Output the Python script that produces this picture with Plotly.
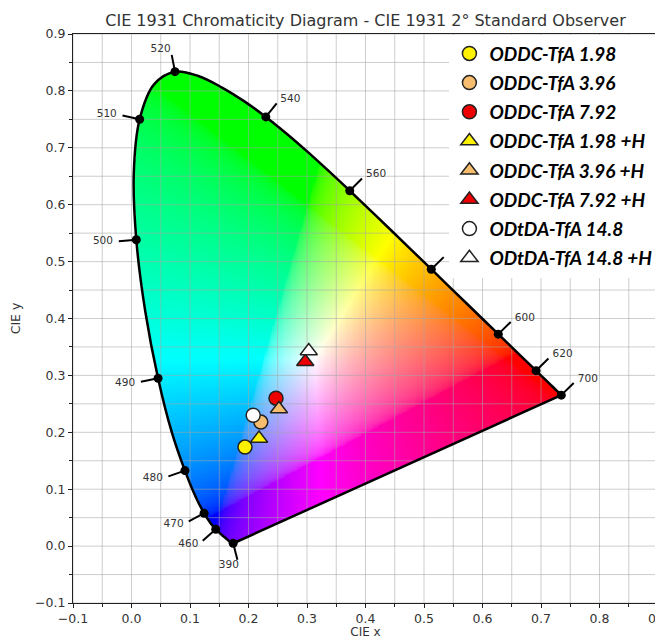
import numpy as np
import plotly.graph_objects as go

# ---------------- data ----------------
# CIE 1931 2 deg spectral locus chromaticities (380-700 nm, 5 nm)
LOCUS_WL = list(range(380, 705, 5))
LOCUS_X = [0.1741, 0.1740, 0.1738, 0.1736, 0.1733, 0.1730, 0.1726, 0.1721, 0.1714, 0.1703,
           0.1689, 0.1669, 0.1644, 0.1611, 0.1566, 0.1510, 0.1440, 0.1355, 0.1241, 0.1096,
           0.0913, 0.0687, 0.0454, 0.0235, 0.0082, 0.0039, 0.0139, 0.0389, 0.0743, 0.1142,
           0.1547, 0.1929, 0.2296, 0.2658, 0.3016, 0.3373, 0.3731, 0.4087, 0.4441, 0.4788,
           0.5125, 0.5448, 0.5752, 0.6029, 0.6270, 0.6482, 0.6658, 0.6801, 0.6915, 0.7006,
           0.7079, 0.7140, 0.7190, 0.7230, 0.7260, 0.7283, 0.7300, 0.7311, 0.7320, 0.7327,
           0.7334, 0.7340, 0.7344, 0.7346, 0.7347]
LOCUS_Y = [0.0050, 0.0050, 0.0049, 0.0049, 0.0048, 0.0048, 0.0048, 0.0048, 0.0051, 0.0058,
           0.0069, 0.0086, 0.0109, 0.0138, 0.0177, 0.0227, 0.0297, 0.0399, 0.0578, 0.0868,
           0.1327, 0.2007, 0.2950, 0.4127, 0.5384, 0.6548, 0.7502, 0.8120, 0.8338, 0.8262,
           0.8059, 0.7816, 0.7543, 0.7243, 0.6923, 0.6589, 0.6245, 0.5896, 0.5547, 0.5202,
           0.4866, 0.4544, 0.4242, 0.3965, 0.3725, 0.3514, 0.3340, 0.3197, 0.3083, 0.2993,
           0.2920, 0.2859, 0.2809, 0.2770, 0.2740, 0.2717, 0.2700, 0.2689, 0.2680, 0.2673,
           0.2666, 0.2660, 0.2656, 0.2654, 0.2653]

# wavelengths marked on the locus; 580 nm's label sits under the legend in the original
LABEL_WL = [390, 460, 470, 480, 490, 500, 510, 520, 540, 560, 580, 600, 620, 700]
HIDDEN_LABEL_WL = [580]

SAMPLE_NAMES = ["ODDC-TfA 1.98", "ODDC-TfA 3.96", "ODDC-TfA 7.92",
                "ODDC-TfA 1.98 +H", "ODDC-TfA 3.96 +H", "ODDC-TfA 7.92 +H",
                "ODtDA-TfA 14.8", "ODtDA-TfA 14.8 +H"]
SAMPLE_X = [0.194, 0.221, 0.247, 0.218, 0.252, 0.297, 0.208, 0.303]
SAMPLE_Y = [0.174, 0.218, 0.260, 0.189, 0.241, 0.324, 0.230, 0.343]
SAMPLE_SYMBOLS = ["circle", "circle", "circle",
                  "triangle-up", "triangle-up", "triangle-up",
                  "circle", "triangle-up"]
SAMPLE_COLORS = ["#FFF200", "#F7BD6E", "#EE0000",
                 "#FFF200", "#F7BD6E", "#EE0000",
                 "#FFFFFF", "#FFFFFF"]

X_TICKS = [-0.1, 0.0, 0.1, 0.2, 0.3, 0.4, 0.5, 0.6, 0.7, 0.8, 0.9]
Y_TICKS = [-0.1, 0.0, 0.1, 0.2, 0.3, 0.4, 0.5, 0.6, 0.7, 0.8, 0.9]

# ---------------- diagram colours ----------------
lx = np.array(LOCUS_X)
ly = np.array(LOCUS_Y)

# smooth boundary (Catmull-Rom through the locus points) used only as the fill mask
def catmull_rom(px, py, sub=10):
    n = len(px)
    ox, oy = [], []
    for i in range(n - 1):
        p0 = np.array([px[max(i - 1, 0)], py[max(i - 1, 0)]])
        p1 = np.array([px[i], py[i]])
        p2 = np.array([px[i + 1], py[i + 1]])
        p3 = np.array([px[min(i + 2, n - 1)], py[min(i + 2, n - 1)]])
        for t in np.linspace(0, 1, sub, endpoint=False):
            t2, t3 = t * t, t * t * t
            pt = 0.5 * ((2 * p1) + (-p0 + p2) * t + (2 * p0 - 5 * p1 + 4 * p2 - p3) * t2
                        + (-p0 + 3 * p1 - 3 * p2 + p3) * t3)
            ox.append(pt[0])
            oy.append(pt[1])
    ox.append(px[-1])
    oy.append(py[-1])
    return np.array(ox), np.array(oy)

mx, my = catmull_rom(lx, ly)
poly_x = np.append(mx, mx[0])
poly_y = np.append(my, my[0])

step = 0.002
gx = np.arange(step / 2, 0.74, step)
gy = np.arange(step / 2, 0.84, step)
X, Y = np.meshgrid(gx, gy)

inside = np.zeros(X.shape, dtype=bool)
for i in range(len(poly_x) - 1):
    x1, y1, x2, y2 = poly_x[i], poly_y[i], poly_x[i + 1], poly_y[i + 1]
    if y1 == y2:
        continue
    cond = ((y1 > Y) != (y2 > Y)) & (X < (x2 - x1) * (Y - y1) / (y2 - y1) + x1)
    inside ^= cond

XYZ = np.stack([X / Y, np.ones_like(X), (1 - X - Y) / Y], axis=-1)
M = np.array([[3.2404542, -1.5371385, -0.4985314],
              [-0.9692660, 1.8760108, 0.0415560],
              [0.0556434, -0.2040259, 1.0572252]])
RGB = XYZ @ M.T
RGB = np.where(RGB <= 0.0031308, 12.92 * RGB,
               1.055 * np.power(np.maximum(RGB, 0), 1 / 2.4) - 0.055)
RGB = RGB / np.max(RGB, axis=-1, keepdims=True)
RGB = np.clip(RGB, 0, 1)
rgb8 = np.round(RGB * 255).astype(int)
alpha = inside.astype(int)
z = np.concatenate([rgb8, alpha[..., None]], axis=-1)
z[~inside] = [255, 255, 255, 0]

fig = go.Figure()
fig.add_trace(go.Image(z=z.tolist(), colormodel="rgba", x0=gx[0], dx=step,
                       y0=gy[0], dy=step, hoverinfo="skip"))

# grid lines drawn over the diagram
gvals = np.round(np.arange(-0.1, 0.9001, 0.05), 3)
glx, gly = [], []
for v in gvals:
    glx += [v, v, None]
    gly += [-0.1, 0.9, None]
    glx += [-0.1, 0.9, None]
    gly += [v, v, None]
fig.add_trace(go.Scatter(x=glx, y=gly, mode="lines",
                         line=dict(color="rgba(165,165,165,0.55)", width=1),
                         hoverinfo="skip", showlegend=False))

# spectral locus outline (smooth) and purple line
fig.add_trace(go.Scatter(x=LOCUS_X, y=LOCUS_Y, mode="lines",
                         line=dict(color="black", width=2.5, shape="spline", smoothing=1),
                         hoverinfo="skip", showlegend=False))
fig.add_trace(go.Scatter(x=[LOCUS_X[-1], LOCUS_X[0]], y=[LOCUS_Y[-1], LOCUS_Y[0]],
                         mode="lines", line=dict(color="black", width=2.5),
                         hoverinfo="skip", showlegend=False))

# wavelength ticks and labels
L = 0.04
tlx, tly, dots_x, dots_y, txt_x, txt_y, txt, tpos = [], [], [], [], [], [], [], []
for wl in LABEL_WL:
    i = LOCUS_WL.index(wl)
    a = max(i - 1, 0)
    b = min(i + 1, len(LOCUS_WL) - 1)
    ddx = lx[b] - lx[a]
    ddy = ly[b] - ly[a]
    n = np.array([-ddy, ddx])
    n = n / np.linalg.norm(n)
    px, py = lx[i], ly[i]
    tlx += [px, px + 0.75 * L * n[0], None]
    tly += [py, py + 0.75 * L * n[1], None]
    dots_x.append(px)
    dots_y.append(py)
    if wl in HIDDEN_LABEL_WL:
        continue
    txt_x.append(px + L * n[0])
    txt_y.append(py + L * n[1])
    txt.append(str(wl))
    tpos.append("middle right" if n[0] > 0.3 else "middle left")

fig.add_trace(go.Scatter(x=tlx, y=tly, mode="lines",
                         line=dict(color="black", width=2),
                         hoverinfo="skip", showlegend=False))
fig.add_trace(go.Scatter(x=dots_x, y=dots_y, mode="markers",
                         marker=dict(color="black", size=9),
                         hoverinfo="skip", showlegend=False))
fig.add_trace(go.Scatter(x=txt_x, y=txt_y, mode="text", text=txt, textposition=tpos,
                         textfont=dict(family="DejaVu Sans", size=10.5, color="#333333"),
                         hoverinfo="skip", showlegend=False))

# samples
for name, sx, sy, sym, col in zip(SAMPLE_NAMES, SAMPLE_X, SAMPLE_Y,
                                  SAMPLE_SYMBOLS, SAMPLE_COLORS):
    fig.add_trace(go.Scatter(
        x=[sx], y=[sy], mode="markers", name=name, legendgroup=name,
        marker=dict(symbol=sym, color=col, size=14 if sym == "circle" else 15,
                    line=dict(color="#222222", width=1.5)),
    ))

axis_common = dict(
    showgrid=False, zeroline=False, showline=True, linecolor="#222222", linewidth=1.2,
    mirror=True, ticks="outside", ticklen=4, tickcolor="#222222", tickwidth=1,
    tickfont=dict(family="DejaVu Sans", size=12.5, color="#333333"),
    tickformat=".1f", automargin=False, constrain="range", ticklabeloverflow="allow",
    minor=dict(ticks="outside", ticklen=3, tickcolor="#222222", dtick=0.05, showgrid=False),
)
fig.update_xaxes(range=[-0.1, 0.9], tickvals=X_TICKS, **axis_common,
                 title=dict(text="CIE x", standoff=0,
                            font=dict(family="DejaVu Sans", size=12, color="#333333")))
fig.update_yaxes(range=[-0.1, 0.9], tickvals=Y_TICKS, **axis_common, scaleanchor=False,
                 title=dict(text="CIE y", standoff=12,
                            font=dict(family="DejaVu Sans", size=12.5, color="#333333")))

# the page body has an 8 px margin, so the figure box starts at (8, 8)
fig.update_layout(
    width=655, height=631,
    margin=dict(l=65, r=5, t=26, b=36),
    paper_bgcolor="white", plot_bgcolor="white",
    title=dict(text="CIE 1931 Chromaticity Diagram - CIE 1931 2° Standard Observer",
               x=0.5, xref="paper", xanchor="center", y=0.981, yanchor="middle",
               yref="container",
               font=dict(family="DejaVu Sans", size=16, color="#333333")),
    legend=dict(x=0.999, y=0.999, xanchor="right", yanchor="top",
                bgcolor="white", borderwidth=0, traceorder="grouped", tracegroupgap=1.5,
                font=dict(family="Lato", size=19, color="black", weight="bold",
                          style="italic")),
    showlegend=True,
)

fig.write_html("out.html")
